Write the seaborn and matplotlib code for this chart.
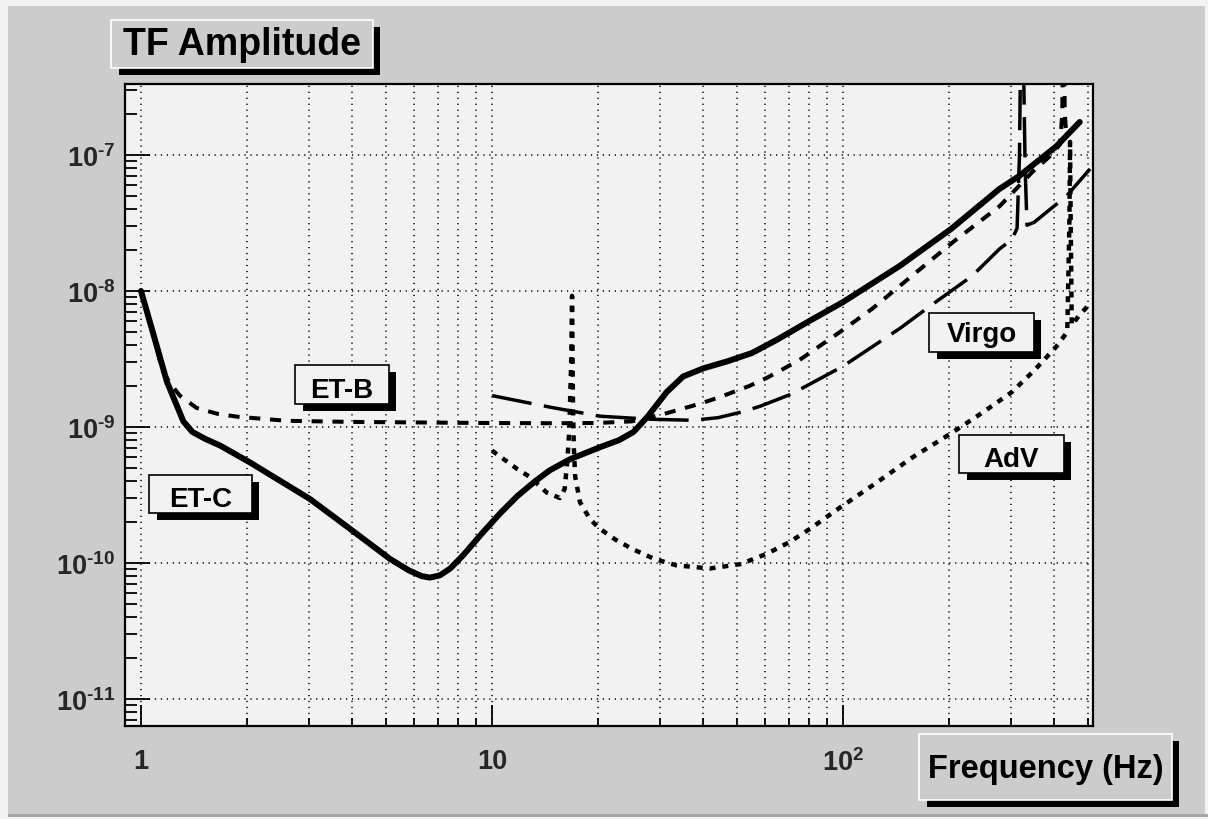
import numpy as np
import pandas as pd
import matplotlib
matplotlib.use("Agg")
import matplotlib.pyplot as plt
from matplotlib import ticker
from matplotlib.patches import Rectangle
import seaborn as sns

# values (Hz, TF amplitude)
etc_f = [1.0, 1.08, 1.186, 1.27, 1.32, 1.4, 1.52, 1.68, 2.04, 3.03, 3.94, 5.12, 5.8, 6.3, 6.65,
         7.1, 7.6, 8.3, 9.42, 10.6, 11.8, 13.2, 14.6, 16.7, 20.3, 23.0, 25.3, 27.8, 31.4, 35.0,
         40.0, 47.0, 55.0, 65.0, 80.0, 100, 145, 203, 278, 317, 405, 472]
etc_a = [1e-8, 5e-9, 2.14e-9, 1.4e-9, 1.1e-9, 9.2e-10, 8.2e-10, 7.3e-10, 5.5e-10, 2.95e-10,
         1.78e-10, 1.07e-10, 8.8e-11, 8.0e-11, 7.8e-11, 8.1e-11, 9.1e-11, 1.15e-10, 1.68e-10,
         2.35e-10, 3.1e-10, 3.95e-10, 4.8e-10, 5.8e-10, 7.1e-10, 8.0e-10, 9.2e-10, 1.2e-9,
         1.8e-9, 2.35e-9, 2.7e-9, 3.05e-9, 3.5e-9, 4.4e-9, 6.0e-9, 8.3e-9, 1.53e-8,
         2.86e-8, 5.6e-8, 7e-8, 1.16e-7, 1.75e-7]

etb_f = [1.0, 1.08, 1.15, 1.21, 1.29, 1.44, 1.65, 1.88, 2.6, 3.9, 9.5, 15, 20, 25, 31, 39, 44.6,
         54, 60.7, 75, 98, 121, 162, 206, 279, 346, 388, 415, 421, 423.5, 425, 428, 433]
etb_a = [1e-8, 5e-9, 2.6e-9, 2.1e-9, 1.7e-9, 1.38e-9, 1.25e-9, 1.19e-9, 1.11e-9, 1.09e-9,
         1.07e-9, 1.065e-9, 1.07e-9, 1.1e-9, 1.25e-9, 1.48e-9, 1.66e-9, 2e-9, 2.3e-9, 3.1e-9,
         5e-9, 7.4e-9, 1.38e-8, 2.3e-8, 4.2e-8, 7.5e-8, 9.8e-8, 1.2e-7, 2e-7, 1e-6, 1e-6,
         2e-7, 1.35e-7]

virgo_f = [10, 14.6, 20.3, 28.2, 37.3, 44, 51.5, 58, 71, 80.5, 100, 145, 180, 233, 279, 303,
           313, 318, 321, 325, 330, 334, 350, 433, 505]
virgo_a = [1.7e-9, 1.4e-9, 1.2e-9, 1.14e-9, 1.12e-9, 1.17e-9, 1.29e-9, 1.42e-9, 1.74e-9,
           2.07e-9, 2.8e-9, 5.3e-9, 8e-9, 1.29e-8, 2.04e-8, 2.4e-8, 2.9e-8, 1e-7, 1e-6, 1e-6,
           8e-8, 3.05e-8, 3.2e-8, 5e-8, 7.9e-8]

adv_f = [10, 11.8, 12.8, 14.3, 15.6, 16.1, 16.4, 16.6, 16.8, 16.9, 17.0, 17.1, 17.25, 17.8,
         19.0, 20.3, 22.5, 25.2, 29.0, 33.5, 41.7, 51, 60.7, 70.6, 80.4, 98.3, 121, 158, 202,
         250, 302, 350, 405, 435, 441, 443, 445, 448, 470, 510]
adv_a = [6.7e-10, 4.9e-10, 4.3e-10, 3.3e-10, 3.0e-10, 3.5e-10, 5.8e-10, 9.7e-10, 3e-9, 9.2e-9,
         1.5e-9, 7e-10, 4.3e-10, 2.8e-10, 2.1e-10, 1.78e-10, 1.48e-10, 1.26e-10, 1.07e-10,
         9.6e-11, 9.1e-11, 9.8e-11, 1.17e-10, 1.43e-10, 1.78e-10, 2.57e-10, 3.7e-10, 6e-10,
         8.9e-10, 1.28e-9, 1.8e-9, 2.6e-9, 3.9e-9, 5e-9, 3e-8, 1.25e-7, 3e-8, 5.6e-9, 6.6e-9,
         8.3e-9]

labels = ["ET-C", "ET-B", "Virgo", "AdV"]
x_ticks = [1, 10, 100]
x_tick_labels = ["1", "10", r"$10^{2}$"]
y_ticks = [1e-11, 1e-10, 1e-9, 1e-8, 1e-7]

W, H = 1208, 820
FONT = "Liberation Sans"

sns.set_theme(style="ticks")
plt.rcParams.update({
    "font.family": [FONT, "DejaVu Sans"],
    "font.weight": "bold",
    "mathtext.fontset": "custom",
    "mathtext.rm": "Liberation Sans:bold",
    "mathtext.bf": "Liberation Sans:bold",
    "mathtext.it": "Liberation Sans:bold",
    "lines.scale_dashes": False,
})


def fx(px):
    return px / W


def fy(py):
    return 1 - py / H


def label_box(fig, x0, y0, x1, y1, text, base, size, face, edge):
    # black drop shadow first, then the box on top
    fig.add_artist(Rectangle((fx(x0 + 8), fy(y1 + 7)), fx(x1 - x0 - 1), (y1 - y0) / H,
                             transform=fig.transFigure, facecolor="black", edgecolor="none"))
    fig.add_artist(Rectangle((fx(x0), fy(y1)), fx(x1 - x0), (y1 - y0) / H,
                             transform=fig.transFigure, facecolor=face, edgecolor=edge, lw=1.2))
    fig.text(fx((x0 + x1) / 2), fy(base), text, ha="center", va="baseline",
             fontsize=size, fontweight="bold", family=FONT, color="black")


fig = plt.figure(figsize=(W / 100, H / 100), dpi=100, facecolor="#f2f2f2")
# canvas bevel
fig.add_artist(Rectangle((fx(8), fy(815)), fx(1197), 808 / H, transform=fig.transFigure,
                         facecolor="#cccccc", edgecolor="none", zorder=0))
fig.add_artist(Rectangle((fx(8), fy(818)), fx(1200), 3 / H, transform=fig.transFigure,
                         facecolor="#a6a6a6", edgecolor="none", zorder=0))

ax = fig.add_axes([fx(125), fy(727), fx(968), 642 / H])
ax.set_facecolor("#f2f2f2")

sns.lineplot(x=etc_f, y=etc_a, ax=ax, color="black", lw=4.3, sort=False, estimator=None,
             solid_joinstyle="round")
sns.lineplot(x=etb_f, y=etb_a, ax=ax, color="black", lw=2.9, sort=False, estimator=None,
             linestyle=(0, (8, 7)))
sns.lineplot(x=virgo_f, y=virgo_a, ax=ax, color="black", lw=2.5, sort=False, estimator=None,
             linestyle=(0, (29, 9)))
sns.lineplot(x=adv_f, y=adv_a, ax=ax, color="black", lw=3.2, sort=False, estimator=None,
             linestyle=(0, (4.3, 5)))

ax.set_xscale("log")
ax.set_yscale("log")
ax.set_xlim(0.9003, 515)
ax.set_ylim(6.32e-12, 3.33e-7)

ax.xaxis.set_major_locator(ticker.FixedLocator(x_ticks))
ax.xaxis.set_minor_locator(ticker.LogLocator(base=10, subs=np.arange(2, 10), numticks=20))
ax.xaxis.set_major_formatter(ticker.FixedFormatter(x_tick_labels))
ax.xaxis.set_minor_formatter(ticker.NullFormatter())
ax.yaxis.set_major_locator(ticker.FixedLocator(y_ticks))
ax.yaxis.set_minor_locator(ticker.LogLocator(base=10, subs=np.arange(2, 10), numticks=20))
ax.yaxis.set_major_formatter(ticker.FuncFormatter(
    lambda v, _: r"$10^{\text{-}%d}$" % abs(int(round(np.log10(v))))))
ax.yaxis.set_minor_formatter(ticker.NullFormatter())

ax.set_axisbelow(True)
grid_style = dict(color="black", linestyle=(0, (0.9, 3.4)), lw=1.1)
ax.grid(True, which="major", axis="both", **grid_style)
ax.grid(True, which="minor", axis="x", **grid_style)

ax.tick_params(axis="both", which="both", direction="in", top=False, right=False,
               color="black", width=1.3, labelsize=19.5)
ax.tick_params(axis="x", which="major", length=15, pad=16)
ax.tick_params(axis="x", which="minor", length=6)
ax.tick_params(axis="y", which="major", length=18, pad=7)
ax.tick_params(axis="y", which="minor", length=8.6)
for s in ax.spines.values():
    s.set_visible(True)
    s.set_color("black")
    s.set_linewidth(1.6)
ax.set_xlabel("")
ax.set_ylabel("")

# axis titles (ROOT style boxes with shadows)
label_box(fig, 111, 21, 373, 69, "TF Amplitude", 55, 27, "#cccccc", "white")
label_box(fig, 919, 735, 1172, 801, "Frequency (Hz)", 778, 23.5, "#cccccc", "white")

# curve labels
label_box(fig, 149, 476, 252, 514, labels[0], 507, 20, "#f2f2f2", "black")
label_box(fig, 295, 366, 389, 405, labels[1], 398, 20, "#f2f2f2", "black")
label_box(fig, 929, 314, 1034, 353, labels[2], 342, 20, "#f2f2f2", "black")
label_box(fig, 959, 436, 1064, 474, labels[3], 467, 20, "#f2f2f2", "black")

fig.savefig("out.png", dpi=100, facecolor=fig.get_facecolor())
